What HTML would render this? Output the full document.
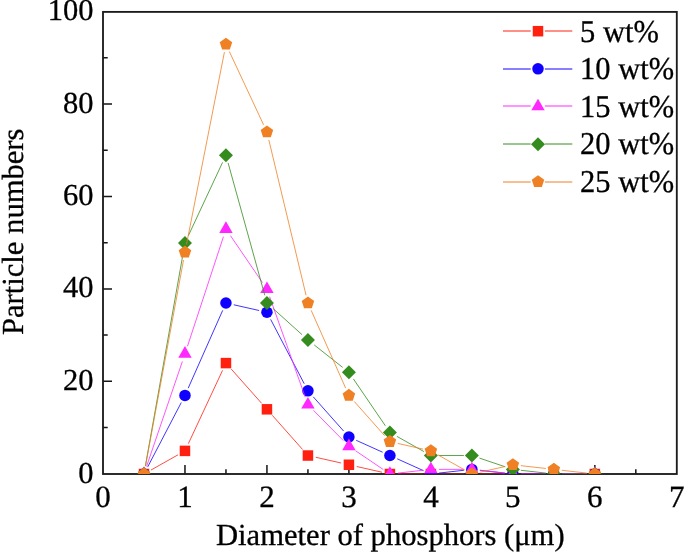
<!DOCTYPE html><html><head><meta charset="utf-8"><style>html,body{margin:0;padding:0;background:#fff;}body{width:685px;height:552px;overflow:hidden;}svg{display:block;will-change:transform;}text{font-family:"Liberation Serif",serif;fill:#000;text-rendering:geometricPrecision;stroke:#000;stroke-width:0.3px;}</style></head><body>
<svg width="685" height="552" viewBox="0 0 685 552">
<defs><clipPath id="c"><rect x="103.0" y="11.9" width="573.8" height="462.1"/></clipPath></defs>
<path d="M143.99 474.0 V469.3 M184.97 474.0 V465.0 M225.96 474.0 V469.3 M266.94 474.0 V465.0 M307.93 474.0 V469.3 M348.91 474.0 V465.0 M389.90 474.0 V469.3 M430.89 474.0 V465.0 M471.87 474.0 V469.3 M512.86 474.0 V465.0 M553.84 474.0 V469.3 M594.83 474.0 V465.0 M635.81 474.0 V469.3 M103.0 427.54 H107.7 M103.0 381.33 H112.0 M103.0 335.12 H107.7 M103.0 288.91 H112.0 M103.0 242.70 H107.7 M103.0 196.49 H112.0 M103.0 150.28 H107.7 M103.0 104.07 H112.0 M103.0 57.86 H107.7" stroke="#151515" stroke-width="1.5" fill="none"/>
<rect x="103.0" y="11.9" width="573.8" height="462.1" fill="none" stroke="#1c1c1c" stroke-width="1.85"/>
<g clip-path="url(#c)">
<path d="M150.95 470.07 L178.00 454.82 M188.36 443.65 L222.57 370.35 M231.27 369.08 L261.63 403.32 M272.25 415.29 L302.62 449.53 M315.73 457.28 L341.11 463.00 M356.72 466.52 L382.10 472.24 M397.90 474.00 L422.89 474.00 M438.89 474.00 L463.87 474.00 M479.87 474.00 L504.86 474.00 M520.86 474.00 L545.84 474.00 M561.84 474.00 L586.83 474.00" stroke="#ff2010" stroke-width="0.8" fill="none"/>
<rect x="138.74" y="468.75" width="10.50" height="10.50" fill="#ff2010"/>
<rect x="179.72" y="445.64" width="10.50" height="10.50" fill="#ff2010"/>
<rect x="220.71" y="357.85" width="10.50" height="10.50" fill="#ff2010"/>
<rect x="261.69" y="404.06" width="10.50" height="10.50" fill="#ff2010"/>
<rect x="302.68" y="450.27" width="10.50" height="10.50" fill="#ff2010"/>
<rect x="343.66" y="459.51" width="10.50" height="10.50" fill="#ff2010"/>
<rect x="384.65" y="468.75" width="10.50" height="10.50" fill="#ff2010"/>
<rect x="425.64" y="468.75" width="10.50" height="10.50" fill="#ff2010"/>
<rect x="466.62" y="468.75" width="10.50" height="10.50" fill="#ff2010"/>
<rect x="507.61" y="468.75" width="10.50" height="10.50" fill="#ff2010"/>
<rect x="548.59" y="468.75" width="10.50" height="10.50" fill="#ff2010"/>
<rect x="589.58" y="468.75" width="10.50" height="10.50" fill="#ff2010"/>
<path d="M147.69 466.91 L181.27 402.54 M188.21 388.13 L222.71 310.34 M233.76 304.78 L259.14 310.51 M270.64 319.36 L304.23 383.73 M313.24 396.81 L343.61 431.05 M356.21 440.32 L382.61 452.23 M397.19 458.80 L423.59 470.71 M438.84 473.10 L463.92 470.28 M479.82 470.28 L504.91 473.10 M520.86 474.00 L545.84 474.00 M561.84 474.00 L586.83 474.00" stroke="#1000ff" stroke-width="0.8" fill="none"/>
<circle cx="143.99" cy="474.00" r="5.75" fill="#1000ff"/>
<circle cx="184.97" cy="395.44" r="5.75" fill="#1000ff"/>
<circle cx="225.96" cy="303.02" r="5.75" fill="#1000ff"/>
<circle cx="266.94" cy="312.26" r="5.75" fill="#1000ff"/>
<circle cx="307.93" cy="390.82" r="5.75" fill="#1000ff"/>
<circle cx="348.91" cy="437.03" r="5.75" fill="#1000ff"/>
<circle cx="389.90" cy="455.52" r="5.75" fill="#1000ff"/>
<circle cx="430.89" cy="474.00" r="5.75" fill="#1000ff"/>
<circle cx="471.87" cy="469.38" r="5.75" fill="#1000ff"/>
<circle cx="512.86" cy="474.00" r="5.75" fill="#1000ff"/>
<circle cx="553.84" cy="474.00" r="5.75" fill="#1000ff"/>
<circle cx="594.83" cy="474.00" r="5.75" fill="#1000ff"/>
<path d="M146.57 466.43 L182.39 361.43 M187.47 346.25 L223.46 236.69 M230.47 235.70 L262.43 282.55 M269.62 296.70 L305.25 397.15 M313.54 410.38 L343.30 440.58 M355.54 450.76 L383.27 469.52 M397.85 473.10 L422.94 470.28 M438.89 469.38 L463.87 469.38 M479.82 470.28 L504.91 473.10 M520.86 474.00 L545.84 474.00 M561.84 474.00 L586.83 474.00" stroke="#ff28ff" stroke-width="0.8" fill="none"/>
<polygon points="143.99,466.26 150.69,477.87 137.28,477.87" fill="#ff28ff"/>
<polygon points="184.97,346.11 191.67,357.72 178.27,357.72" fill="#ff28ff"/>
<polygon points="225.96,221.35 232.66,232.96 219.25,232.96" fill="#ff28ff"/>
<polygon points="266.94,281.42 273.65,293.03 260.24,293.03" fill="#ff28ff"/>
<polygon points="307.93,396.94 314.63,408.56 301.23,408.56" fill="#ff28ff"/>
<polygon points="348.91,438.53 355.62,450.14 342.21,450.14" fill="#ff28ff"/>
<polygon points="389.90,466.26 396.60,477.87 383.20,477.87" fill="#ff28ff"/>
<polygon points="430.89,461.64 437.59,473.25 424.18,473.25" fill="#ff28ff"/>
<polygon points="471.87,461.64 478.57,473.25 465.17,473.25" fill="#ff28ff"/>
<polygon points="512.86,466.26 519.56,477.87 506.15,477.87" fill="#ff28ff"/>
<polygon points="553.84,466.26 560.55,477.87 547.14,477.87" fill="#ff28ff"/>
<polygon points="594.83,466.26 601.53,477.87 588.13,477.87" fill="#ff28ff"/>
<path d="M145.38 466.12 L183.57 250.83 M188.36 235.70 L222.57 162.40 M228.09 162.86 L264.81 295.31 M272.88 308.38 L301.99 334.63 M314.21 344.95 L342.63 367.38 M353.42 378.95 L385.39 425.80 M396.87 436.34 L423.92 451.59 M438.89 455.52 L463.87 455.52 M479.45 458.08 L505.28 466.82 M520.81 470.28 L545.89 473.10 M561.84 474.00 L586.83 474.00" stroke="#358c1e" stroke-width="0.8" fill="none"/>
<polygon points="143.99,467.00 150.99,474.00 143.99,481.00 136.99,474.00" fill="#358c1e"/>
<polygon points="184.97,235.95 191.97,242.95 184.97,249.95 177.97,242.95" fill="#358c1e"/>
<polygon points="225.96,148.15 232.96,155.15 225.96,162.15 218.96,155.15" fill="#358c1e"/>
<polygon points="266.94,296.02 273.94,303.02 266.94,310.02 259.94,303.02" fill="#358c1e"/>
<polygon points="307.93,332.99 314.93,339.99 307.93,346.99 300.93,339.99" fill="#358c1e"/>
<polygon points="348.91,365.34 355.91,372.34 348.91,379.34 341.91,372.34" fill="#358c1e"/>
<polygon points="389.90,425.41 396.90,432.41 389.90,439.41 382.90,432.41" fill="#358c1e"/>
<polygon points="430.89,448.52 437.89,455.52 430.89,462.52 423.89,455.52" fill="#358c1e"/>
<polygon points="471.87,448.52 478.87,455.52 471.87,462.52 464.87,455.52" fill="#358c1e"/>
<polygon points="512.86,462.38 519.86,469.38 512.86,476.38 505.86,469.38" fill="#358c1e"/>
<polygon points="553.84,467.00 560.84,474.00 553.84,481.00 546.84,474.00" fill="#358c1e"/>
<polygon points="594.83,467.00 601.83,474.00 594.83,481.00 587.83,474.00" fill="#358c1e"/>
<path d="M145.44 466.13 L183.52 260.06 M186.52 244.34 L224.41 52.10 M229.34 51.50 L263.56 124.80 M268.81 139.83 L306.06 295.24 M311.17 310.34 L345.67 388.13 M354.22 401.43 L384.59 435.67 M397.70 443.41 L423.08 449.14 M437.85 454.82 L464.90 470.07 M479.68 472.24 L505.05 466.52 M520.81 465.65 L545.89 468.48 M561.79 470.28 L586.88 473.10" stroke="#f08024" stroke-width="0.8" fill="none"/>
<polygon points="143.99,467.43 150.23,471.97 147.85,479.32 140.12,479.32 137.74,471.97" fill="#f08024"/>
<polygon points="184.97,245.62 191.22,250.16 188.83,257.51 181.11,257.51 178.72,250.16" fill="#f08024"/>
<polygon points="225.96,37.68 232.21,42.22 229.82,49.56 222.10,49.56 219.71,42.22" fill="#f08024"/>
<polygon points="266.94,125.48 273.19,130.02 270.80,137.36 263.08,137.36 260.69,130.02" fill="#f08024"/>
<polygon points="307.93,296.45 314.18,300.99 311.79,308.34 304.07,308.34 301.68,300.99" fill="#f08024"/>
<polygon points="348.91,388.87 355.16,393.41 352.78,400.76 345.05,400.76 342.67,393.41" fill="#f08024"/>
<polygon points="389.90,435.08 396.15,439.62 393.76,446.97 386.04,446.97 383.65,439.62" fill="#f08024"/>
<polygon points="430.89,444.32 437.13,448.86 434.75,456.21 427.02,456.21 424.64,448.86" fill="#f08024"/>
<polygon points="471.87,467.43 478.12,471.97 475.73,479.32 468.01,479.32 465.62,471.97" fill="#f08024"/>
<polygon points="512.86,458.19 519.11,462.73 516.72,470.07 509.00,470.07 506.61,462.73" fill="#f08024"/>
<polygon points="553.84,462.81 560.09,467.35 557.70,474.69 549.98,474.69 547.59,467.35" fill="#f08024"/>
<polygon points="594.83,467.43 601.08,471.97 598.69,479.32 590.97,479.32 588.58,471.97" fill="#f08024"/>
</g>
<text x="103.00" y="506.6" font-size="31" text-anchor="middle">0</text>
<text x="184.97" y="506.6" font-size="31" text-anchor="middle">1</text>
<text x="266.94" y="506.6" font-size="31" text-anchor="middle">2</text>
<text x="348.91" y="506.6" font-size="31" text-anchor="middle">3</text>
<text x="430.89" y="506.6" font-size="31" text-anchor="middle">4</text>
<text x="512.86" y="506.6" font-size="31" text-anchor="middle">5</text>
<text x="594.83" y="506.6" font-size="31" text-anchor="middle">6</text>
<text x="676.80" y="506.6" font-size="31" text-anchor="middle">7</text>
<text x="93.4" y="482.60" font-size="30.5" text-anchor="end">0</text>
<text x="93.4" y="389.78" font-size="30.5" text-anchor="end">20</text>
<text x="93.4" y="297.36" font-size="30.5" text-anchor="end">40</text>
<text x="93.4" y="204.84" font-size="30.5" text-anchor="end">60</text>
<text x="93.4" y="112.62" font-size="30.5" text-anchor="end">80</text>
<text x="93.4" y="19.80" font-size="30.5" text-anchor="end">100</text>
<text x="216" y="545" font-size="30.6">Diameter of phosphors (μm)</text>
<text transform="translate(23,335) rotate(-90)" font-size="30.6">Particle numbers</text>
<path d="M503 31 H530.7 M544.9 31 H572.3" stroke="#ff2010" stroke-width="1" fill="none"/>
<rect x="532.75" y="25.95" width="10.50" height="10.50" fill="#ff2010"/>
<text transform="translate(580,41.50) scale(1,1.045)" font-size="30.5">5 wt%</text>
<path d="M503 69 H530.7 M544.9 69 H572.3" stroke="#1000ff" stroke-width="1" fill="none"/>
<circle cx="538.00" cy="68.85" r="5.75" fill="#1000ff"/>
<text transform="translate(580,79.15) scale(1,1.045)" font-size="30.5">10 wt%</text>
<path d="M503 106 H530.7 M544.9 106 H572.3" stroke="#ff28ff" stroke-width="1" fill="none"/>
<polygon points="538.00,98.76 544.70,110.37 531.30,110.37" fill="#ff28ff"/>
<text transform="translate(580,116.80) scale(1,1.045)" font-size="30.5">15 wt%</text>
<path d="M503 144 H530.7 M544.9 144 H572.3" stroke="#358c1e" stroke-width="1" fill="none"/>
<polygon points="538.00,137.15 545.00,144.15 538.00,151.15 531.00,144.15" fill="#358c1e"/>
<text transform="translate(580,154.45) scale(1,1.045)" font-size="30.5">20 wt%</text>
<path d="M503 182 H530.7 M544.9 182 H572.3" stroke="#f08024" stroke-width="1" fill="none"/>
<polygon points="538.00,175.23 544.25,179.77 541.86,187.12 534.14,187.12 531.75,179.77" fill="#f08024"/>
<text transform="translate(580,192.10) scale(1,1.045)" font-size="30.5">25 wt%</text>
</svg></body></html>
